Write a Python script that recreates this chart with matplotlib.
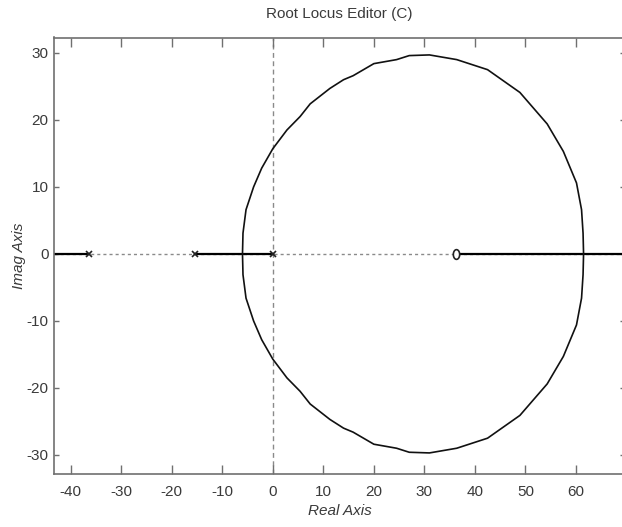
import matplotlib
matplotlib.use("Agg")
import numpy as np
import matplotlib.pyplot as plt
from matplotlib.path import Path

plt.rcParams['font.family'] = ['Liberation Sans Narrow', 'Liberation Sans', 'DejaVu Sans']
plt.rcParams['axes.unicode_minus'] = False

# open-loop poles and zero
POLES = [-36.4, -15.3, 0.0]
ZEROS = [36.2]

# complex branch (upper half), read along the locus
LOCUS_RE = [-6.0, -5.95, -5.9, -5.3, -3.8, -2.2, 0.0, 2.8, 5.4, 7.4, 11.3, 14.0, 15.9,
            20.0, 24.5, 27.0, 31.0, 36.4, 42.5, 48.9, 54.3, 57.5, 60.1, 61.1, 61.4, 61.5]
LOCUS_IM = [0.0, 1.5, 3.1, 6.6, 10.0, 12.8, 15.7, 18.5, 20.5, 22.4, 24.7, 26.0, 26.6,
            28.4, 29.0, 29.6, 29.7, 29.0, 27.5, 24.1, 19.4, 15.3, 10.6, 6.6, 3.1, 0.0]

# real-axis segments that belong to the locus
REAL_SEGMENTS = [(-43.3, -36.4), (-15.3, 0.0), (36.2, 69.7)]

XLIM = (-43.3, 69.7)
YLIM = (-32.8, 32.3)
XTICKS = [-40, -30, -20, -10, 0, 10, 20, 30, 40, 50, 60]
YTICKS = [-30, -20, -10, 0, 10, 20, 30]

TEXT = '#3a3a3a'
SPINE = '#707070'

# tall oval for the zero marker
t = np.linspace(0, 2 * np.pi, 40)
oval = Path(np.column_stack([0.65 * np.cos(t), np.sin(t)]), closed=True)

fig = plt.figure(figsize=(6.22, 5.27), dpi=100)
ax = fig.add_axes([54 / 622, (527 - 473.7) / 527, (625 - 54) / 622, (473.7 - 37.5) / 527])

# dashed axis lines through the origin
ax.axhline(0, color='#8a8a8a', lw=1.0, dashes=(2.2, 2.2), zorder=1)
ax.axvline(0, color='#8a8a8a', lw=1.0, dashes=(3.5, 2.5), zorder=1)

for a, b in REAL_SEGMENTS:
    ax.plot([a, b], [0, 0], color='black', lw=1.6, zorder=2)

re = np.array(LOCUS_RE)
im = np.array(LOCUS_IM)
ax.plot(re, im, color='#111111', lw=1.2, zorder=3)
ax.plot(re, -im, color='#111111', lw=1.2, zorder=3)

ax.plot(POLES, [0] * len(POLES), ls='none', marker='x', ms=5, mew=1.2, color='#222222', zorder=4)
ax.plot(ZEROS, [0] * len(ZEROS), ls='none', marker=oval, ms=7, mew=1.2, mfc='white',
        color='#222222', zorder=4)

ax.set_xlim(*XLIM)
ax.set_ylim(*YLIM)
ax.set_xticks(XTICKS)
ax.set_yticks(YTICKS)
ax.tick_params(axis='both', direction='in', top=True, right=True, color=SPINE,
               labelcolor=TEXT, labelsize=11, width=1.0)
ax.tick_params(axis='x', length=6.5, pad=8)
ax.tick_params(axis='y', length=3.5, pad=4)
for s in ax.spines.values():
    s.set_color(SPINE)
    s.set_linewidth(1.2)

ax.set_title('Root Locus Editor (C)', color=TEXT, fontsize=11, pad=14)
ax.set_xlabel('Real Axis', color=TEXT, fontsize=11, style='italic', labelpad=4)
ax.set_ylabel('Imag Axis', color=TEXT, fontsize=11, style='italic', labelpad=0)

fig.savefig('out.png', dpi=100)
